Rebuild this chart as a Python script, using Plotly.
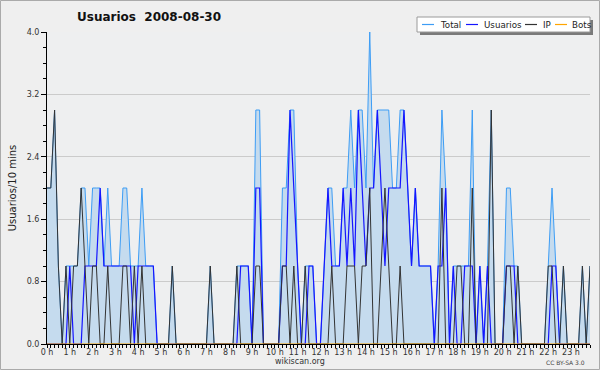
import plotly.graph_objects as go

# 10-minute slots of 2008-08-30 (index 0 = 00:00 ... 143 = 23:50)
slots = list(range(144))

total = [2,2,3,1,0,1,1,1,1,2, 2,1,2,2,2,1,2,1,1,1, 2,2,1,1,1,2,1,1,1,0,
         0,0,0,1,0,0,0,0,0,0, 0,0,0,1,0,0,0,0,0,0, 1,1,1,1,0,3,3,0,0,0,
         0,0,2,2,3,3,1,0,1,1, 1,0,0,1,2,2,1,1,2,2, 3,2,3,3,2,4,2,3,3,3,
         3,2,2,3,3,2,1,2,1,1, 1,1,0,1,3,2,0,1,1,1, 1,1,3,0,1,0,1,3,0,0,
         0,2,2,1,1,0,0,0,0,0, 0,0,1,2,1,0,1,0,0,0, 0,1,0,1]
usuarios = [0,0,0,0,0,0,1,0,0,0, 1,1,1,1,2,1,1,1,1,1, 1,1,1,0,1,1,1,1,1,0,
            0,0,0,0,0,0,0,0,0,0, 0,0,0,0,0,0,0,0,0,0, 0,1,1,1,0,2,2,0,0,0,
            0,0,1,1,3,2,1,0,0,1, 1,0,0,1,2,1,1,1,2,1, 2,1,3,2,1,2,2,3,2,1,
            2,2,2,2,3,2,1,2,1,1, 1,1,0,1,1,2,0,1,0,0, 1,1,1,0,1,0,1,0,0,0,
            0,1,1,1,0,0,0,0,0,0, 0,0,0,1,1,0,0,0,0,0, 0,0,0,0]
ip = [2,2,3,1,0,1,0,1,1,2, 1,0,1,1,0,0,1,0,0,0, 1,1,0,1,0,1,0,0,0,0,
      0,0,0,1,0,0,0,0,0,0, 0,0,0,1,0,0,0,0,0,0, 1,0,0,0,0,1,1,0,0,0,
      0,0,1,1,0,1,0,0,1,0, 0,0,0,0,0,1,0,0,0,1, 1,1,0,1,1,2,0,0,1,2,
      1,0,0,1,0,0,0,0,0,0, 0,0,0,0,2,0,0,0,1,1, 0,0,2,0,0,0,0,3,0,0,
      0,1,1,0,1,0,0,0,0,0, 0,0,1,1,0,0,1,0,0,0, 0,1,0,1]
bots = [0,0,0,0,0,0,0,0,0,0, 0,0,0,0,0,0,0,0,0,0, 0,0,0,0,0,0,0,0,0,0,
        0,0,0,0,0,0,0,0,0,0, 0,0,0,0,0,0,0,0,0,0, 0,0,0,0,0,0,0,0,0,0,
        0,0,0,0,0,0,0,0,0,0, 0,0,0,0,0,0,0,0,0,0, 0,0,0,0,0,0,0,0,0,0,
        0,0,0,0,0,0,0,0,0,0, 0,0,0,0,0,0,0,0,0,0, 0,0,0,0,0,0,0,0,0,0,
        0,0,0,0,0,0,0,0,0,0, 0,0,0,0,0,0,0,0,0,0, 0,0,0,0]

hour_ticks = [0,6,12,18,24,30,36,42,48,54,60,66,72,78,84,90,96,102,108,114,120,126,132,138]
hour_labels = ["0 h","1 h","2 h","3 h","4 h","5 h","6 h","7 h","8 h","9 h","10 h","11 h",
               "12 h","13 h","14 h","15 h","16 h","17 h","18 h","19 h","20 h","21 h","22 h","23 h"]
y_ticks = [0, 0.8, 1.6, 2.4, 3.2, 4.0]
y_labels = ["0.0", "0.8", "1.6", "2.4", "3.2", "4.0"]

series_names = ["Total", "Usuarios", "IP", "Bots"]
series_colors = ["#3d9df5", "#1515ff", "#333333", "#ffa500"]

W, H = 600, 370
L, R, T, B = 47, 10, 32, 26
PW, PH = W - L - R, H - T - B
FONT = "DejaVu Sans"

def px(x):
    return (x - L) / PW

def py(y):
    return (H - B - y) / PH

fig = go.Figure()
fig.add_trace(go.Scatter(x=slots, y=total, mode="lines", fill="tozeroy",
                         fillcolor="#c5dbee", line=dict(color=series_colors[0], width=1),
                         name="Total", showlegend=False))
fig.add_trace(go.Scatter(x=slots, y=usuarios, mode="lines",
                         line=dict(color=series_colors[1], width=1.2),
                         name="Usuarios", showlegend=False))
fig.add_trace(go.Scatter(x=slots, y=ip, mode="lines",
                         line=dict(color=series_colors[2], width=1),
                         name="IP", showlegend=False))
fig.add_trace(go.Scatter(x=slots, y=bots, mode="lines",
                         line=dict(color=series_colors[3], width=1),
                         name="Bots", showlegend=False))

shapes = []
annotations = []

# outer frame
shapes.append(dict(type="rect", xref="paper", yref="paper",
                   x0=px(0.5), x1=px(W - 0.5), y0=py(0.5), y1=py(H - 0.5),
                   line=dict(color="#aaaaaa", width=1), layer="below"))

# legend box with shadow
lx0, lx1, ly0, ly1 = 417, 590, 17, 32
shapes.append(dict(type="rect", xref="paper", yref="paper",
                   x0=px(lx0 + 3), x1=px(lx1 + 3), y0=py(ly0 + 3), y1=py(ly1 + 3),
                   fillcolor="#7a7a7a", line=dict(width=0), layer="above"))
shapes.append(dict(type="rect", xref="paper", yref="paper",
                   x0=px(lx0), x1=px(lx1), y0=py(ly0), y1=py(ly1),
                   fillcolor="#ffffff", line=dict(color="#9a9a9a", width=1), layer="above"))
item_line_x = [422, 466, 525, 555]
item_text_x = [438, 482, 541, 570]
ly_mid = (ly0 + ly1) / 2
for name, col, xl, xt in zip(series_names, series_colors, item_line_x, item_text_x):
    shapes.append(dict(type="line", xref="paper", yref="paper",
                       x0=px(xl), x1=px(xl + 12), y0=py(ly_mid), y1=py(ly_mid),
                       line=dict(color=col, width=1.2), layer="above"))
    annotations.append(dict(text=name, xref="paper", yref="paper", x=px(xt), y=py(ly_mid),
                            xanchor="left", yanchor="middle", showarrow=False,
                            font=dict(family=FONT, size=8.7, color="#222222")))

# title
annotations.append(dict(text="<b>Usuarios  2008-08-30</b>", xref="paper", yref="paper",
                        x=px(75), y=py(17), xanchor="left", yanchor="middle", showarrow=False,
                        font=dict(family=FONT, size=12, color="#111111")))
# footer
annotations.append(dict(text="wikiscan.org", xref="paper", yref="paper",
                        x=px(300), y=py(361), xanchor="center", yanchor="middle", showarrow=False,
                        font=dict(family=FONT, size=8, color="#333333")))
annotations.append(dict(text="CC BY-SA 3.0", xref="paper", yref="paper",
                        x=px(565), y=py(362), xanchor="center", yanchor="middle", showarrow=False,
                        font=dict(family=FONT, size=6, color="#444444")))

fig.update_layout(
    width=W, height=H, autosize=False,
    margin=dict(l=L, r=R, t=T, b=B, pad=0),
    paper_bgcolor="#efefef", plot_bgcolor="#eeeff0",
    font=dict(family=FONT, size=9, color="#222222"),
    showlegend=False,
    shapes=shapes, annotations=annotations,
    xaxis=dict(range=[0, 143], tickvals=hour_ticks, ticktext=hour_labels, automargin=False,
               showgrid=False, zeroline=False, showline=True, linecolor="#000000", linewidth=1,
               ticks="outside", ticklen=3, tickcolor="#000000", tickwidth=1,
               ticklabelstandoff=-3,
               tickfont=dict(family=FONT, size=8, color="#333333"),
               minor=dict(dtick=1, tick0=0, ticks="outside", ticklen=3, tickcolor="#000000", showgrid=False)),
    yaxis=dict(range=[0, 4], tickvals=y_ticks, ticktext=y_labels, automargin=False,
               showgrid=True, gridcolor="#cbcbcb", gridwidth=1, zeroline=False,
               showline=True, linecolor="#000000", linewidth=1,
               ticks="outside", ticklen=5, tickcolor="#000000",
               tickfont=dict(family=FONT, size=8, color="#333333"),
               title=dict(text="Usuarios/10 mins", font=dict(family=FONT, size=10, color="#222222"), standoff=8),
               minor=dict(dtick=0.2, tick0=0, ticks="outside", ticklen=3, tickcolor="#000000", showgrid=False)),
)

fig.write_html("out.html", config={"displayModeBar": False},
               post_script="document.body.style.margin='0';")
